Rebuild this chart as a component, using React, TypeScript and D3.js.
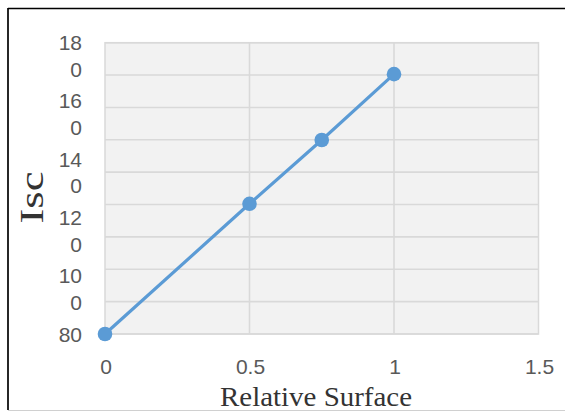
import React from "react";
import * as d3 from "d3";

const xValues = [0, 0.5, 0.75, 1];
const iscValues = [80, 124.7, 146.6, 169.2];
const xTicks = [0, 0.5, 1, 1.5];
const xTickLabels = ["0", "0.5", "1", "1.5"];
const yTickValues = [80, 100, 120, 140, 160, 180];
const yTickLines = [["80"], ["10", "0"], ["12", "0"], ["14", "0"], ["16", "0"], ["18", "0"]];
const yGridCount = 9;
const xTitle = "Relative Surface";
const yTitle = "Isc";

const W = 565;
const H = 412;
const plot = { left: 105, right: 538.5, top: 42.7, bottom: 334 };

export default function App() {
  const x = d3.scaleLinear().domain([0, 1.5]).range([plot.left, plot.right]);
  const y = d3.scaleLinear().domain([80, 180]).range([plot.bottom, plot.top]);
  const gridVals = d3.range(yGridCount + 1).map((i) => 80 + (i * 100) / yGridCount);
  const pts = xValues.map((v, i) => [v, iscValues[i]] as [number, number]);
  const line = d3
    .line<[number, number]>()
    .x((d) => x(d[0]))
    .y((d) => y(d[1]));

  return (
    <svg
      width={W}
      height={H}
      style={{ position: "absolute", left: 0, top: 0, background: "#fff" }}
    >
      <rect x={0} y={0} width={W} height={H} fill="#fff" />
      {/* outer frame */}
      <line x1={8} y1={8.5} x2={W} y2={8.5} stroke="#000" strokeWidth={1.7} />
      <line x1={8} y1={8} x2={8} y2={410} stroke="#000" strokeWidth={1.7} />
      <line x1={8} y1={410.5} x2={W} y2={410.5} stroke="#d0d0d0" strokeWidth={1.2} />

      {/* plot area */}
      <rect
        x={plot.left}
        y={plot.top}
        width={plot.right - plot.left}
        height={plot.bottom - plot.top}
        fill="#f2f2f2"
        stroke="#d9d9d9"
        strokeWidth={1.5}
      />
      {gridVals.map((v, i) => (
        <line
          key={"gy" + i}
          x1={plot.left}
          x2={plot.right}
          y1={y(v)}
          y2={y(v)}
          stroke="#d9d9d9"
          strokeWidth={1.6}
        />
      ))}
      {xTicks.slice(1, -1).map((v, i) => (
        <line
          key={"gx" + i}
          x1={x(v)}
          x2={x(v)}
          y1={plot.top}
          y2={plot.bottom}
          stroke="#d9d9d9"
          strokeWidth={1.6}
        />
      ))}

      {/* y tick labels */}
      {yTickValues.map((v, i) => (
        <text
          key={"yt" + i}
          textAnchor="end"
          fontFamily="Liberation Sans, Arial, sans-serif"
          fontSize={21}
          fill="#595959"
        >
          {yTickLines[i].map((s, j) => (
            <tspan key={j} x={82} y={y(v) + 7.5 + j * 26.7}>
              {s}
            </tspan>
          ))}
        </text>
      ))}

      {/* x tick labels */}
      {xTicks.map((v, i) => (
        <text
          key={"xt" + i}
          x={x(v) + 1}
          y={374}
          textAnchor="middle"
          fontFamily="Liberation Sans, Arial, sans-serif"
          fontSize={21}
          fill="#595959"
        >
          {xTickLabels[i]}
        </text>
      ))}

      {/* series */}
      <path d={line(pts) || ""} fill="none" stroke="#5b9bd5" strokeWidth={3.2} strokeLinecap="round" />
      {pts.map((p, i) => (
        <circle key={"p" + i} cx={x(p[0])} cy={y(p[1])} r={7.3} fill="#5b9bd5" />
      ))}

      {/* axis titles */}
      <text
        x={316}
        y={406}
        textAnchor="middle"
        fontFamily="Liberation Serif, Times New Roman, serif"
        fontSize={28}
        fill="#333"
        textLength={192}
        lengthAdjust="spacingAndGlyphs"
      >
        {xTitle}
      </text>
      <text
        transform="translate(43.3,197.5) rotate(-90)"
        textAnchor="middle"
        fontFamily="Liberation Serif, Times New Roman, serif"
        fontSize={33}
        fill="#333"
        textLength={52}
        lengthAdjust="spacingAndGlyphs"
      >
        {yTitle}
      </text>
    </svg>
  );
}
